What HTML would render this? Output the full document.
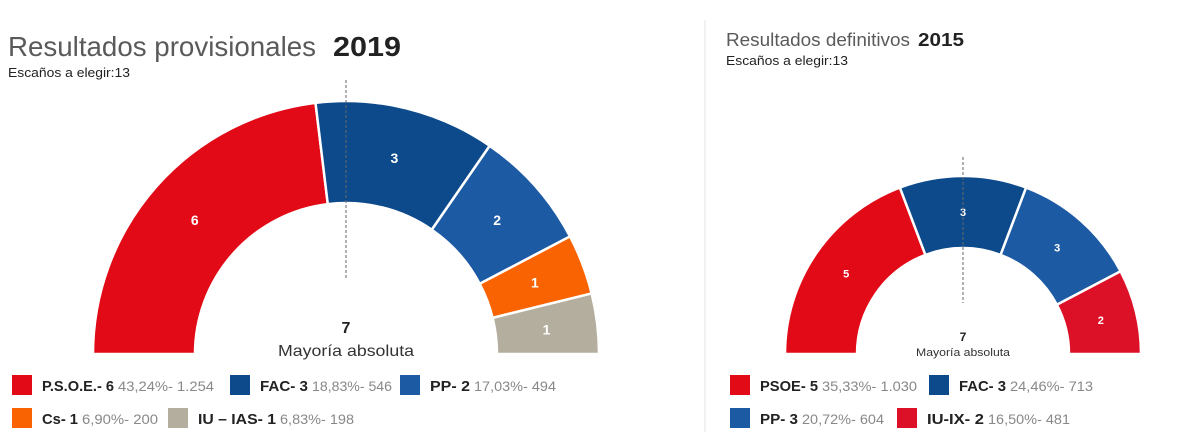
<!DOCTYPE html>
<html><head><meta charset="utf-8"><style>
html,body{margin:0;padding:0;background:#fff;}
svg{display:block;font-family:"Liberation Sans",sans-serif;}
</style></head><body>
<svg id="svg" width="1200" height="446" viewBox="0 0 1200 446">
<line x1="705" y1="20" x2="705" y2="432" stroke="#eee" stroke-width="1.5"/>
<text x="8" y="56" font-size="28" fill="#5a5a5a" font-weight="300" textLength="308" lengthAdjust="spacingAndGlyphs">Resultados provisionales</text>
<text x="333" y="56" font-size="28" fill="#222" font-weight="bold" textLength="68" lengthAdjust="spacingAndGlyphs">2019</text>
<text x="8" y="77" font-size="13" fill="#222" textLength="122" lengthAdjust="spacingAndGlyphs">Escaños a elegir:13</text>
<text x="726" y="46" font-size="18" fill="#5a5a5a" textLength="184" lengthAdjust="spacingAndGlyphs">Resultados definitivos</text>
<text x="918" y="46" font-size="18" fill="#222" font-weight="bold" textLength="46" lengthAdjust="spacingAndGlyphs">2015</text>
<text x="726" y="65" font-size="13" fill="#222" textLength="122" lengthAdjust="spacingAndGlyphs">Escaños a elegir:13</text>
<g id="c1"></g><g id="c2"></g>
<text x="346" y="333" font-size="16" fill="#222" font-weight="bold" text-anchor="middle">7</text>
<text x="346" y="356" font-size="16" fill="#333" text-anchor="middle" textLength="136" lengthAdjust="spacingAndGlyphs">Mayoría absoluta</text>
<text x="963" y="341" font-size="12" fill="#222" font-weight="bold" text-anchor="middle">7</text>
<text x="963" y="356" font-size="11" fill="#333" text-anchor="middle" textLength="94" lengthAdjust="spacingAndGlyphs">Mayoría absoluta</text>
<g id="legend" font-size="15"></g>
</svg>
<script>
const totalSeats = 13;
const parties2019 = ["P.S.O.E.", "FAC", "PP", "Cs", "IU – IAS"];
const seats2019 = [6, 3, 2, 1, 1];
const pct2019 = ["43,24%", "18,83%", "17,03%", "6,90%", "6,83%"];
const votes2019 = ["1.254", "546", "494", "200", "198"];
const colors2019 = ["#e20a17", "#0d4a8b", "#1c5aa4", "#f96302", "#b4ae9f"];
const parties2015 = ["PSOE", "FAC", "PP", "IU-IX"];
const seats2015 = [5, 3, 3, 2];
const pct2015 = ["35,33%", "24,46%", "20,72%", "16,50%"];
const votes2015 = ["1.030", "713", "604", "481"];
const colors2015 = ["#e20a17", "#0d4a8b", "#1c5aa4", "#dc1128"];

const NS = "http://www.w3.org/2000/svg";
function mk(tag, attrs, parent){const e=document.createElementNS(NS,tag);for(const k in attrs)e.setAttribute(k,attrs[k]);parent.appendChild(e);return e;}

function drawArc(gid, cx, cy, R, r, seats, colors, fs, dashTop, dashBottom){
  const g=document.getElementById(gid);
  const ang = s => Math.PI - s/totalSeats*Math.PI;
  let acc=0;
  seats.forEach((s,i)=>{
    const a0=ang(acc), a1=ang(acc+s); acc+=s;
    const p=(rad,a)=>[cx+rad*Math.cos(a), cy-rad*Math.sin(a)];
    const [x0,y0]=p(R,a0),[x1,y1]=p(R,a1),[x2,y2]=p(r,a1),[x3,y3]=p(r,a0);
    const path=mk("path",{d:`M${x0},${y0} A${R},${R} 0 0 1 ${x1},${y1} L${x2},${y2} A${r},${r} 0 0 0 ${x3},${y3} Z`,fill:colors[i],stroke:"#fff","stroke-width":2.5},g);
    
    
    const am=(a0+a1)/2, rm=(R+r)/2;
    const t=mk("text",{x:cx+rm*Math.cos(am),y:cy-rm*Math.sin(am)+fs*0.36,"font-size":fs,"font-weight":"bold",fill:"#fff","text-anchor":"middle"},g);
    t.textContent=s;
    
    
  });
  const d=mk("line",{x1:cx,y1:dashTop,x2:cx,y2:dashBottom,stroke:"#666","stroke-dasharray":"3,2","stroke-width":1},g);
  
  
}
drawArc("c1",346,354,253,151,seats2019,colors2019,14,80,280);
drawArc("c2",963,354,178,106,seats2015,colors2015,11,157,303);

const lg=document.getElementById("legend");
function legendItem(sx, y, color, name, seats, pct, votes, nameW, valW){
  const sq=mk("rect",{x:sx,y:y-10,width:20,height:20,fill:color},lg);
  
  
  const t=mk("text",{x:sx+30,y:y+6,"font-weight":"bold",fill:"#222",textLength:nameW,lengthAdjust:"spacingAndGlyphs"},lg);
  t.textContent=name+"- "+seats;
  
  
  const v=mk("text",{x:sx+30+nameW+4,y:y+6,fill:"#888","font-size":14,textLength:valW,lengthAdjust:"spacingAndGlyphs"},lg);
  v.textContent=pct+"- "+votes;
  
  
}
const L1=[[12,385,72,96],[230,385,48,80],[400,385,40,82],[12,418,36,76],[168,418,78,74]];
parties2019.forEach((p,i)=>legendItem(L1[i][0],L1[i][1],colors2019[i],p,seats2019[i],pct2019[i],votes2019[i],L1[i][2],L1[i][3]));
const L2=[[730,385,58,95],[929,385,47,83],[730,418,38,82],[897,418,57,82]];
parties2015.forEach((p,i)=>legendItem(L2[i][0],L2[i][1],colors2015[i],p,seats2015[i],pct2015[i],votes2015[i],L2[i][2],L2[i][3]));
</script>
</body></html>
